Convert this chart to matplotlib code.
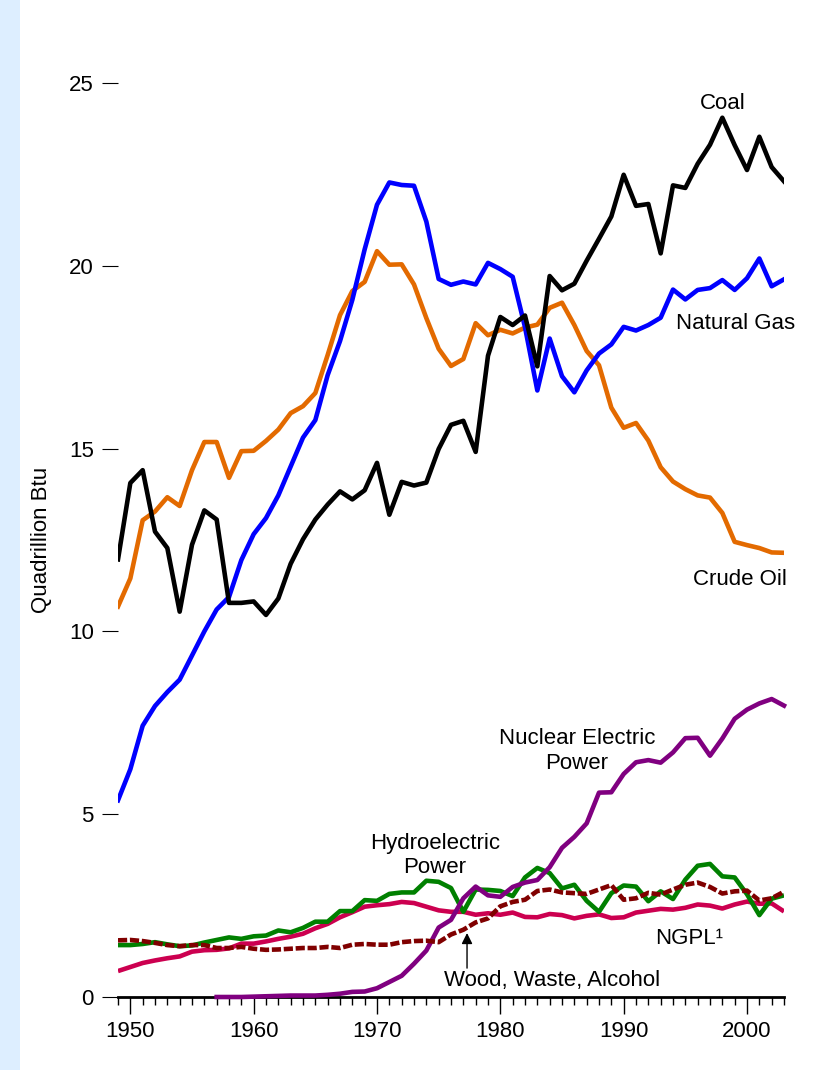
import numpy as np
import matplotlib.pyplot as plt
from matplotlib.patches import Rectangle

# --- Data: U.S. energy production by source, quadrillion Btu ---
years = list(range(1949, 2004))

coal = [11.97, 14.06, 14.41, 12.73, 12.28, 10.54, 12.37, 13.31, 13.06, 10.78,
        10.78, 10.82, 10.45, 10.90, 11.85, 12.52, 13.06, 13.47, 13.83, 13.61,
        13.86, 14.61, 13.19, 14.09, 13.99, 14.07, 14.99, 15.65, 15.76, 14.91,
        17.54, 18.60, 18.38, 18.64, 17.25, 19.72, 19.33, 19.51, 20.14, 20.74,
        21.35, 22.49, 21.64, 21.69, 20.34, 22.20, 22.13, 22.79, 23.31, 24.05,
        23.30, 22.62, 23.53, 22.70, 22.31]

natural_gas = [5.38, 6.23, 7.42, 7.96, 8.34, 8.68, 9.34, 10.00, 10.60, 10.94,
               11.95, 12.66, 13.10, 13.72, 14.51, 15.30, 15.78, 17.01, 17.94, 19.07,
               20.45, 21.67, 22.28, 22.21, 22.19, 21.21, 19.64, 19.48, 19.57, 19.49,
               20.08, 19.91, 19.70, 18.32, 16.59, 18.01, 16.98, 16.54, 17.14, 17.60,
               17.85, 18.33, 18.23, 18.38, 18.58, 19.35, 19.08, 19.34, 19.39, 19.61,
               19.34, 19.66, 20.20, 19.44, 19.63]

crude_oil = [10.68, 11.45, 13.04, 13.28, 13.67, 13.43, 14.41, 15.18, 15.18, 14.20,
             14.93, 14.94, 15.21, 15.52, 15.97, 16.16, 16.52, 17.56, 18.65, 19.31,
             19.56, 20.40, 20.03, 20.04, 19.49, 18.57, 17.73, 17.26, 17.45, 18.43,
             18.10, 18.25, 18.15, 18.31, 18.39, 18.85, 18.99, 18.38, 17.67, 17.28,
             16.12, 15.57, 15.70, 15.22, 14.49, 14.10, 13.89, 13.72, 13.66, 13.24,
             12.45, 12.36, 12.28, 12.16, 12.15]

ngpl = [0.71, 0.82, 0.93, 1.00, 1.06, 1.11, 1.24, 1.28, 1.29, 1.33,
        1.46, 1.46, 1.52, 1.59, 1.65, 1.73, 1.88, 2.00, 2.18, 2.32,
        2.47, 2.51, 2.54, 2.60, 2.57, 2.47, 2.37, 2.33, 2.33, 2.25,
        2.29, 2.25, 2.31, 2.19, 2.18, 2.27, 2.24, 2.15, 2.22, 2.26,
        2.16, 2.18, 2.31, 2.36, 2.41, 2.39, 2.44, 2.53, 2.50, 2.42,
        2.53, 2.61, 2.55, 2.56, 2.34]

hydro = [1.42, 1.42, 1.45, 1.50, 1.44, 1.39, 1.41, 1.49, 1.56, 1.63,
         1.59, 1.66, 1.68, 1.82, 1.77, 1.89, 2.06, 2.06, 2.35, 2.35,
         2.65, 2.63, 2.82, 2.86, 2.86, 3.18, 3.15, 2.98, 2.33, 2.94,
         2.93, 2.90, 2.76, 3.27, 3.53, 3.39, 2.97, 3.07, 2.63, 2.33,
         2.84, 3.05, 3.02, 2.62, 2.89, 2.68, 3.21, 3.59, 3.64, 3.30,
         3.27, 2.81, 2.24, 2.69, 2.78]

wood = [1.55, 1.56, 1.53, 1.48, 1.42, 1.39, 1.42, 1.42, 1.34, 1.34,
        1.37, 1.32, 1.29, 1.30, 1.32, 1.34, 1.34, 1.37, 1.34, 1.43,
        1.45, 1.43, 1.43, 1.50, 1.53, 1.54, 1.50, 1.71, 1.84, 2.04,
        2.15, 2.48, 2.60, 2.66, 2.90, 2.94, 2.86, 2.84, 2.82, 2.94,
        3.06, 2.66, 2.70, 2.85, 2.80, 2.94, 3.07, 3.13, 3.01, 2.83,
        2.89, 2.91, 2.64, 2.70, 2.88]

nuclear_years = list(range(1957, 2004))
nuclear = [0.00, 0.00, 0.00, 0.01, 0.02, 0.03, 0.04, 0.04, 0.04, 0.06,
           0.09, 0.14, 0.15, 0.24, 0.41, 0.58, 0.91, 1.27, 1.90, 2.11,
           2.70, 3.02, 2.78, 2.74, 3.01, 3.13, 3.20, 3.55, 4.08, 4.38,
           4.75, 5.59, 5.60, 6.10, 6.42, 6.48, 6.41, 6.69, 7.08, 7.09,
           6.60, 7.07, 7.61, 7.86, 8.03, 8.15, 7.97]

y_ticks = [0, 5, 10, 15, 20, 25]
x_major = [1950, 1960, 1970, 1980, 1990, 2000]

plt.rcParams['font.family'] = ['Liberation Sans', 'DejaVu Sans']
FS = 16

fig = plt.figure(figsize=(8.25, 10.7), dpi=100)
# light blue strip on the left edge
fig.patches.append(Rectangle((0, 0), 20 / 825, 1, transform=fig.transFigure,
                             facecolor='#DDEEFF', edgecolor='none', zorder=0))

ax = fig.add_axes([118 / 825, 73 / 1070, (784 - 118) / 825, (997 - 83) / 1070])
ax.set_xlim(1949, 2003)
ax.set_ylim(0, 25)

lw = 3.3
ax.plot(years, ngpl, color='#CC0050', lw=lw, solid_capstyle='butt', zorder=3)
ax.plot(years, hydro, color='#008000', lw=lw, solid_capstyle='butt', zorder=4)
ax.plot(nuclear_years, nuclear, color='#800080', lw=lw, clip_on=False, zorder=5)
ax.plot(years, wood, color='#800000', lw=lw, dashes=(2.0, 0.6), zorder=6)
ax.plot(years, crude_oil, color='#E36A00', lw=lw, zorder=7)
ax.plot(years, natural_gas, color='#0000FF', lw=lw, zorder=8)
ax.plot(years, coal, color='black', lw=lw, zorder=9)

# labels
ax.text(1998.0, 24.45, 'Coal', fontsize=FS, ha='center', va='center')
ax.text(1999.1, 18.43, 'Natural Gas', fontsize=FS, ha='center', va='center')
ax.text(1999.4, 11.41, 'Crude Oil', fontsize=FS, ha='center', va='center')
ax.text(1986.2, 6.73, 'Nuclear Electric\nPower', fontsize=FS, ha='center',
        va='center', multialignment='center')
ax.text(1974.7, 3.88, 'Hydroelectric\nPower', fontsize=FS, ha='center',
        va='center', multialignment='center')
ax.text(1995.3, 1.61, 'NGPL\u00b9', fontsize=FS, ha='center', va='center')
ax.text(1984.2, 0.46, 'Wood, Waste, Alcohol', fontsize=FS, ha='center', va='center')
ax.annotate('', xy=(1977.3, 1.75), xytext=(1977.3, 0.79),
            arrowprops=dict(arrowstyle='-|>', color='black', lw=1,
                            mutation_scale=16, shrinkA=0, shrinkB=0))

# axes styling
for s in ['top', 'right', 'left']:
    ax.spines[s].set_visible(False)
ax.spines['bottom'].set_linewidth(2)
ax.spines['bottom'].set_zorder(2)

ax.set_yticks(y_ticks)
ax.set_yticklabels([str(t) for t in y_ticks])
ax.tick_params(axis='y', length=11.5, width=0.8, pad=6, labelsize=FS)

ax.set_xticks(x_major)
ax.set_xticks(years, minor=True)
ax.tick_params(axis='x', which='major', length=12, width=1, pad=5,
               labelsize=FS, direction='out')
ax.tick_params(axis='x', which='minor', length=6, width=1, direction='out')

ax.set_ylabel('Quadrillion Btu', fontsize=FS)
ax.yaxis.set_label_coords(-0.099, 0.5)

fig.savefig('out.png', dpi=100)
